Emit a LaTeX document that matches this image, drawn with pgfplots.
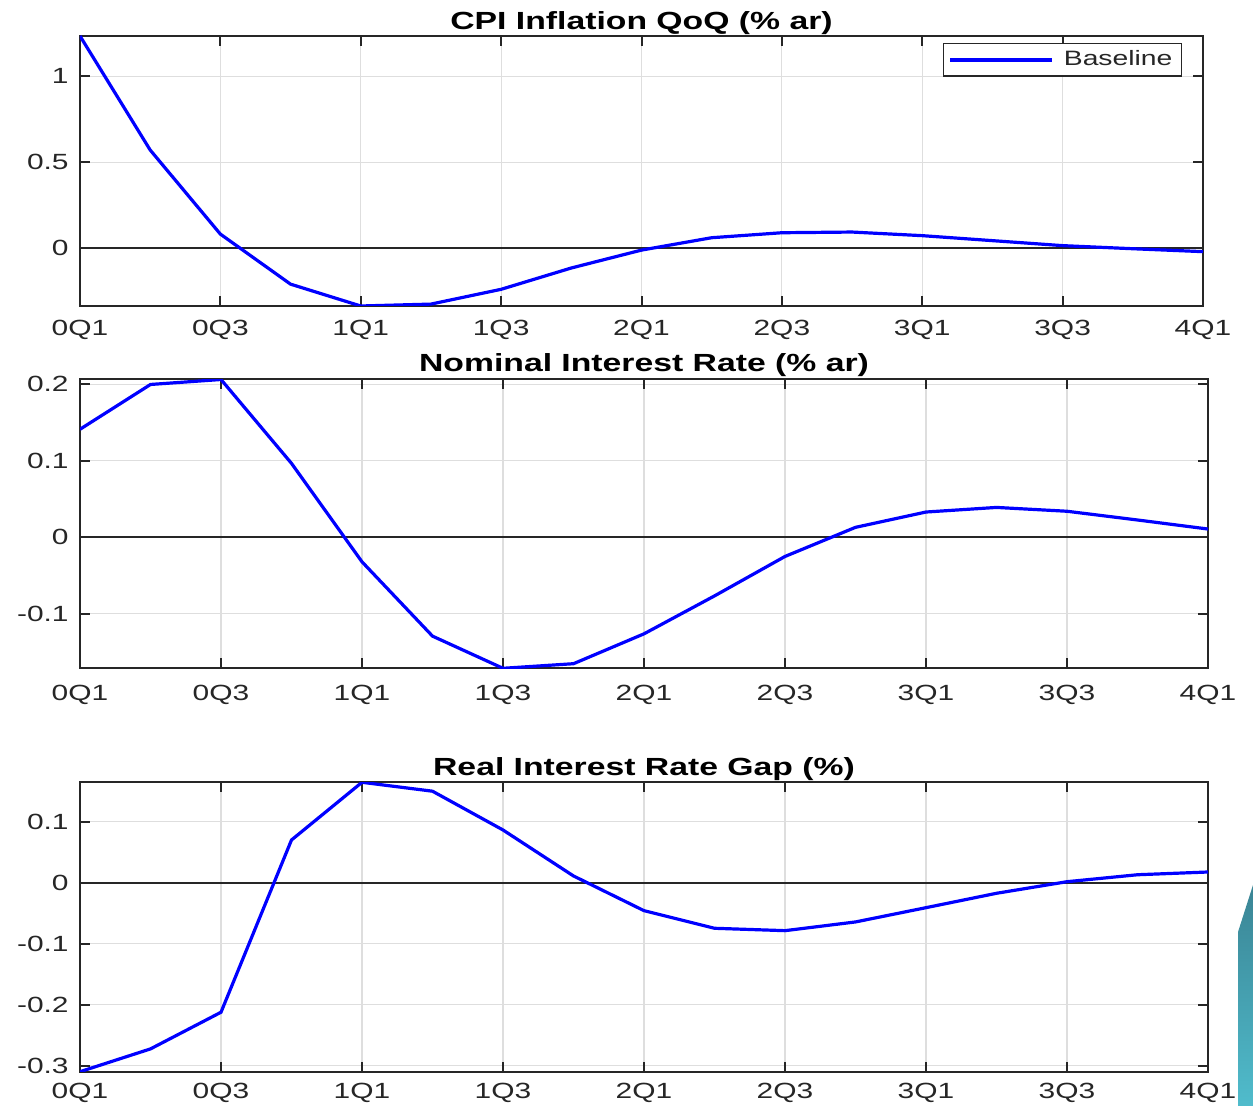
\documentclass[border=0pt]{standalone}
\usepackage{fontspec}
\setmainfont{Liberation Sans}[FakeStretch=1.36]
\usepackage{pgfplots}
\pgfplotsset{compat=1.18}

\definecolor{axgray}{RGB}{38,38,38}
\definecolor{gridgray}{RGB}{222,222,222}
\definecolor{tealdark}{RGB}{58,132,148}
\definecolor{teallight}{RGB}{80,188,204}

% Quarterly impulse responses, horizon 0Q1 ... 4Q1 (17 quarters)
\pgfplotstableread{
q   cpi     nom     rgap
0   1.233   0.141  -0.310
1   0.570   0.1995 -0.2726
2   0.081   0.206  -0.2125
3  -0.210   0.0965  0.070
4  -0.337  -0.032   0.1646
5  -0.326  -0.129   0.150
6  -0.240  -0.171   0.0864
7  -0.116  -0.165   0.011
8  -0.012  -0.126  -0.0459
9   0.060  -0.0765 -0.0748
10  0.089  -0.025  -0.0787
11  0.093   0.013  -0.0644
12  0.072   0.033  -0.041
13  0.043   0.039  -0.0174
14  0.014   0.034   0.0016
15 -0.004   0.0226  0.013
16 -0.021   0.0108  0.0175
}\irf

\pgfplotsset{
  matlabaxis/.style={
    scale only axis,
    anchor=south west,
    xmin=0, xmax=16,
    xtick={0,2,...,16},
    xticklabels={0Q1,0Q3,1Q1,1Q3,2Q1,2Q3,3Q1,3Q3,4Q1},
    grid=major,
    major grid style={gridgray, line width=0.55pt},
    axis line style={axgray, line width=1pt},
    tick style={axgray, line width=1pt},
    major tick length=5pt,
    tick align=inside,
    xtick pos=both, ytick pos=both,
    /pgf/number format/assume math mode=true,
    /pgf/number format/fixed,
    ticklabel style={font=\fontsize{11}{13}\selectfont, text=axgray, inner sep=0pt},
    yticklabel style={anchor=east, xshift=-5.5pt},
    title style={at={(0.5,1)}, anchor=base, yshift=-6pt, font=\bfseries\fontsize{12.4}{14}\selectfont, text=black, inner sep=0pt},
  },
  zeroline/.style={axgray, line width=0.85pt, forget plot},
  irfline/.style={color={rgb,1:red,0;green,0;blue,1}, line width=1.6pt},
}

\begin{document}
\begin{tikzpicture}
\path[use as bounding box] (0pt,0pt) rectangle (626.5pt,-553pt);

% CPI inflation
\begin{axis}[matlabaxis,
  at={(40pt,-153pt)}, width=561.5pt, height=135pt,
  ymin=-0.337, ymax=1.233,
  ytick={0,0.5,1},
  xticklabel style={anchor=north, yshift=-7pt},
  title={CPI Inflation QoQ (\% ar)},
  title style={yshift=3.35pt},
  legend style={at={(1,1)}, anchor=north east, xshift=-10.5pt, yshift=-3.65pt,
    draw=axgray, line width=0.6pt, font=\fontsize{10.4}{12.5}\selectfont, text=axgray,
    inner xsep=2.5pt, inner ysep=1.5pt},
  legend image code/.code={\draw[#1] (0pt,0pt) -- (51pt,0pt); \path (54pt,0pt);},
  legend cell align=left,
]
\addplot[zeroline] coordinates {(0,0) (16,0)};
\addplot[irfline] table[x=q, y=cpi] {\irf};
\addlegendentry{Baseline}
\end{axis}

% Nominal interest rate
\begin{axis}[matlabaxis,
  at={(40pt,-334.15pt)}, width=564pt, height=144.4pt,
  ymin=-0.171, ymax=0.206,
  ytick={-0.1,0,0.1,0.2},
  xticklabel style={anchor=north, yshift=-8.3pt},
  title={Nominal Interest Rate (\% ar)},
  title style={yshift=4pt},
]
\addplot[zeroline] coordinates {(0,0) (16,0)};
\addplot[irfline] table[x=q, y=nom] {\irf};
\end{axis}

% Real interest rate gap
\begin{axis}[matlabaxis,
  at={(40pt,-535.85pt)}, width=564pt, height=144.7pt,
  ymin=-0.31, ymax=0.1646,
  ytick={-0.3,-0.2,-0.1,0,0.1},
  xticklabel style={anchor=north, yshift=-5.7pt},
  title={Real Interest Rate Gap (\%)},
  title style={yshift=3.65pt},
]
\addplot[zeroline] coordinates {(0,0) (16,0)};
\addplot[irfline] table[x=q, y=rgap] {\irf};
\end{axis}

% slide decoration at the lower right edge
\shade[top color=tealdark, bottom color=teallight]
  (619pt,-466pt) -- (626.5pt,-442.5pt) -- (626.5pt,-553pt) -- (619pt,-553pt) -- cycle;
\end{tikzpicture}
\end{document}
